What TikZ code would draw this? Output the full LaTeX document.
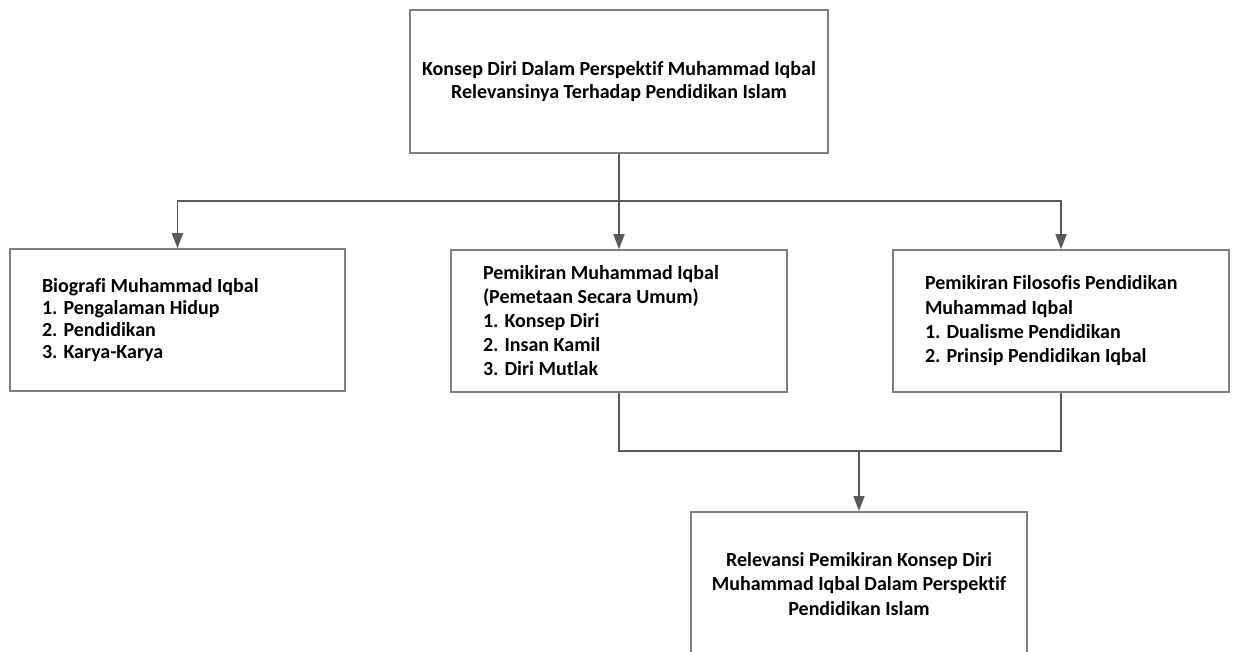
\documentclass[tikz,border=0pt]{standalone}
\usepackage{fontspec}
\setmainfont{Carlito}[Ligatures={NoCommon}]
\usetikzlibrary{arrows.meta}
\definecolor{conncol}{HTML}{5A5A5A}
\definecolor{boxcol}{HTML}{808080}
\begin{document}
\begin{tikzpicture}[x=1pt,y=-1pt,
  box/.style={draw=boxcol,line width=1.6pt,rectangle,inner sep=0pt,
    font=\fontsize{20}{24.3}\selectfont\bfseries},
  lbox/.style={box,align=flush left,inner xsep=32pt,minimum height=142pt},
  cbox/.style={box,align=center},
  conn/.style={draw=conncol,line width=1.8pt},
  arr/.style={conn,-{Triangle[length=15pt,width=11pt]}}]
\useasboundingbox (0,0) rectangle (1235,651);
\clip (0,0) rectangle (1235,651);
\node[cbox,minimum width=418pt,minimum height=143pt,
  font=\fontsize{20}{23}\selectfont\bfseries] (top) at (619,81.5)
  {Konsep Diri Dalam Perspektif Muhammad Iqbal\\Relevansinya Terhadap Pendidikan Islam};
\node[lbox,text width=271pt,font=\fontsize{20}{21.8}\selectfont\bfseries] (left) at (177.5,320)
  {Biografi Muhammad Iqbal\\1. Pengalaman Hidup\\2. Pendidikan\\3. Karya-Karya};
\node[lbox,text width=272pt,font=\fontsize{20}{24}\selectfont\bfseries] (mid) at (619,321)
  {Pemikiran Muhammad Iqbal\\(Pemetaan Secara Umum)\\1. Konsep Diri\\2. Insan Kamil\\3. Diri Mutlak};
\node[lbox,text width=272pt] (right) at (1061,321)
  {Pemikiran Filosofis Pendidikan\\Muhammad Iqbal\\1. Dualisme Pendidikan\\2. Prinsip Pendidikan Iqbal};
\node[cbox,minimum width=336pt,minimum height=144pt,anchor=north,
  font=\fontsize{20}{24.5}\selectfont\bfseries] (bot) at (859,511)
  {Relevansi Pemikiran Konsep Diri\\Muhammad Iqbal Dalam Perspektif\\Pendidikan Islam};
\coordinate (j1) at (619,201);
\coordinate (j2) at (859,451);
\draw[conn] (top.south) -- (j1);
\draw[arr] (j1) -| (left.north);
\draw[arr] (j1) -- (mid.north);
\draw[arr] (j1) -| (right.north);
\draw[conn] (mid.south) |- (j2);
\draw[conn] (right.south) |- (j2);
\draw[arr] (j2) -- (bot.north);
\end{tikzpicture}
\end{document}
